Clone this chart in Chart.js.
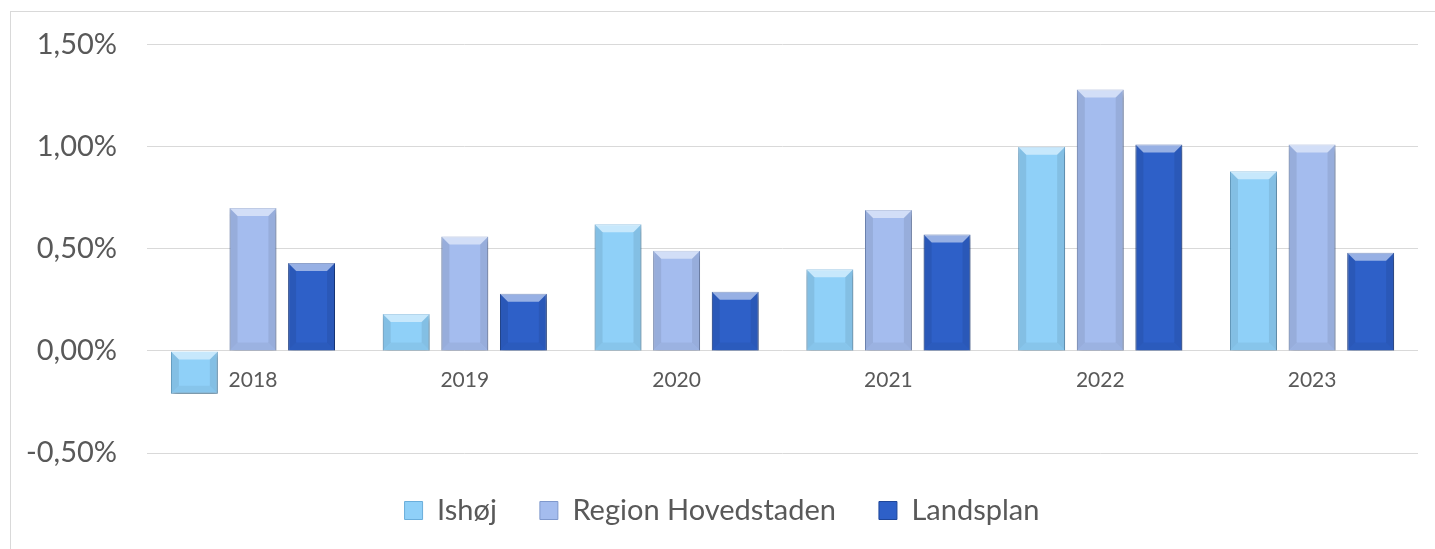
<!DOCTYPE html>
<html>
<head>
<meta charset="utf-8">
<script src="https://cdn.jsdelivr.net/npm/chart.js@4.4.0/dist/chart.umd.min.js"></script>
<style>
  html, body { margin: 0; padding: 0; background: #fff; }
  #frame { position: absolute; left: 10px; top: 11px; width: 1440px; height: 560px; border: 1px solid #d9d9d9; }
  #wrap { position: absolute; left: 0; top: 0; width: 1435px; height: 549px; }
</style>
</head>
<body>
<div id="frame"></div>
<div id="wrap"><canvas id="barChart"></canvas></div>
<script>
var years = ['2018', '2019', '2020', '2021', '2022', '2023'];
var ishoj = [-0.21, 0.18, 0.62, 0.40, 1.00, 0.88];
var region = [0.70, 0.56, 0.49, 0.69, 1.28, 1.01];
var landsplan = [0.43, 0.28, 0.29, 0.57, 1.01, 0.48];
var yTicks = [-0.5, 0, 0.5, 1.0, 1.5];

var font = 'Lato, "Open Sans", sans-serif';
var textColor = '#595959';

// drop shadow under the bars
var shadowPlugin = {
    id: 'barShadow',
    beforeDatasetsDraw: function(chart) {
        var ctx = chart.ctx;
        ctx.save();
        ctx.shadowColor = 'rgba(0,0,0,0.35)';
        ctx.shadowBlur = 5;
        ctx.shadowOffsetX = 1;
        ctx.shadowOffsetY = 4;
    },
    afterDatasetsDraw: function(chart) {
        chart.ctx.restore();
        bevel(chart);
    }
};

// light top / dark sides, like the excel bevel
function bevel(chart) {
    var ctx = chart.ctx;
    chart.data.datasets.forEach(function(ds, i) {
        chart.getDatasetMeta(i).data.forEach(function(bar) {
            var p = bar.getProps(['x', 'y', 'base', 'width'], true);
            var l = p.x - p.width / 2, r = p.x + p.width / 2;
            var t = Math.min(p.y, p.base), b = Math.max(p.y, p.base);
            var s = Math.min(8, (b - t) / 2);
            ctx.save();
            ctx.fillStyle = 'rgba(255,255,255,0.5)';
            ctx.beginPath();
            ctx.moveTo(l, t); ctx.lineTo(r, t); ctx.lineTo(r - s, t + s); ctx.lineTo(l + s, t + s);
            ctx.fill();
            ctx.fillStyle = 'rgba(0,0,0,0.08)';
            ctx.beginPath();
            ctx.moveTo(r, t); ctx.lineTo(r, b); ctx.lineTo(r - s, b - s); ctx.lineTo(r - s, t + s);
            ctx.fill();
            ctx.beginPath();
            ctx.moveTo(l, t); ctx.lineTo(l, b); ctx.lineTo(l + s, b - s); ctx.lineTo(l + s, t + s);
            ctx.fill();
            ctx.fillStyle = 'rgba(0,0,0,0.05)';
            ctx.beginPath();
            ctx.moveTo(l, b); ctx.lineTo(r, b); ctx.lineTo(r - s, b - s); ctx.lineTo(l + s, b - s);
            ctx.fill();
            ctx.restore();
        });
    });
}

function makeSet(label, data, color, border) {
    return {
        label: label,
        data: data,
        backgroundColor: color,
        borderColor: border,
        borderWidth: 1,
        barPercentage: 0.8,
        categoryPercentage: 0.83
    };
}

new Chart(document.getElementById('barChart'), {
    type: 'bar',
    data: {
        labels: years,
        datasets: [
            makeSet('Ishøj', ishoj, '#8fd0f8', '#6aaedb'),
            makeSet('Region Hovedstaden', region, '#a4bcee', '#7f98cc'),
            makeSet('Landsplan', landsplan, '#2e60c8', '#1f4699')
        ]
    },
    options: {
        responsive: true,
        maintainAspectRatio: false,
        animation: false,
        layout: { padding: { top: 25, right: 17, left: 26, bottom: 14 } },
        scales: {
            x: {
                position: { y: 0 },
                grid: { display: false },
                border: { display: false },
                ticks: { color: textColor, font: { family: font, size: 21 }, padding: 9 }
            },
            y: {
                min: -0.5,
                max: 1.5,
                afterBuildTicks: function(axis) {
                    axis.ticks = yTicks.map(function(v) { return { value: v }; });
                },
                afterFit: function(axis) {
                    axis.width -= 30;
                },
                grid: { color: '#d9d9d9', drawTicks: false },
                border: { display: false },
                ticks: {
                    color: textColor,
                    font: { family: font, size: 29, lineHeight: 1 },
                    padding: 30,
                    callback: function(v) { return v.toFixed(2).replace('.', ',') + '%'; }
                }
            }
        },
        plugins: {
            tooltip: { enabled: false },
            legend: {
                position: 'bottom',
                labels: {
                    color: textColor,
                    font: { family: font, size: 29 },
                    boxWidth: 18,
                    boxHeight: 18,
                    padding: 43
                }
            }
        }
    },
    plugins: [shadowPlugin]
});
</script>
</body>
</html>
